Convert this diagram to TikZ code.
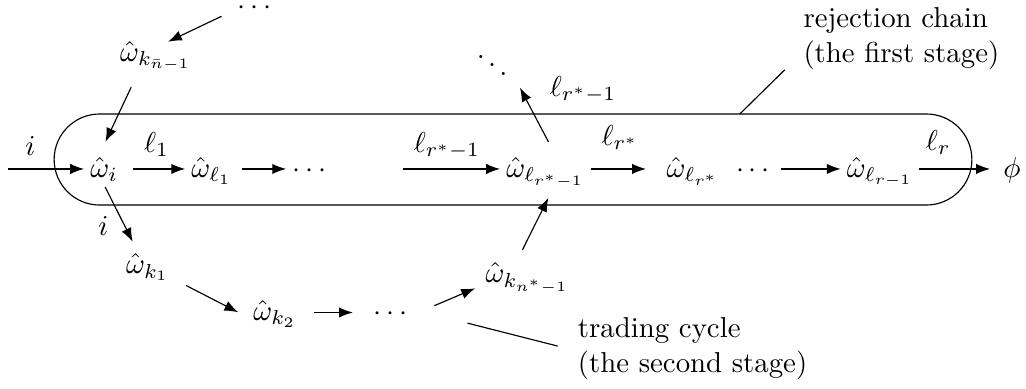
\documentclass[tikz,border=0pt]{standalone}
\usepackage{amsmath}
\usepackage{amssymb}
\usetikzlibrary{arrows.meta}

\begin{document}
\begin{tikzpicture}[
			>={Latex},
			every node/.style={font=\normalsize},
			state/.style={inner sep=2pt, text height=8pt, text depth=2.4pt},
			lbl/.style={inner sep=1pt},
			note/.style={align=left, anchor=west, inner sep=0pt}
			]
			\useasboundingbox (0,0) rectangle (12.51,4.74);
			
			% first stage
			\draw[rounded corners=0.555cm] (0.66,2.24) rectangle (11.85,3.35);
			
			\coordinate (in) at (0.10,2.68);
			\node[state] (wi) at (1.27,2.68) {$\hat{\omega}_i$};
			\node[state] (wl1) at (2.58,2.68) {$\hat{\omega}_{\ell_1}$};
			\node[state] (d1) at (3.80,2.68) {$\cdots$};
			\coordinate (from) at (4.91,2.68);
			\node[state] (wr) at (6.65,2.68) {$\hat{\omega}_{\ell_{r^*-1}}$};
			\node[state] (wrs) at (8.45,2.68) {$\hat{\omega}_{\ell_{r^*}}$};
			\node[state] (d2) at (9.21,2.68) {$\cdots$};
			\node[state] (wrm) at (10.73,2.68) {$\hat{\omega}_{\ell_{r-1}}$};
			\node[state] (phi) at (12.34,2.68) {$\phi$};
			
			\draw[->] (in) -- (wi);
			\draw[->, shorten <=3pt] (wi) -- (wl1);
			\draw[->, shorten <=1.5pt] (wl1) -- (d1);
			\draw[->] (from) -- (wr);
			\draw[->, shorten >=5pt] (wr) -- (wrs);
			\draw[->] (d2) -- (wrm);
			\draw[->, shorten >=2.5pt] (wrm) -- (phi);
			
			\node[lbl] (li) at (0.37,2.96) {$i$};
			\node[lbl] (ll1) at (1.91,2.98) {$\ell_1$};
			\node[lbl] (llr) at (5.45,2.96) {$\ell_{r^*-1}$};
			\node[lbl] (llrs) at (7.56,3.06) {$\ell_{r^*}$};
			\node[lbl] (llr2) at (11.44,3.00) {$\ell_r$};
			
			% upward branch
			\node[lbl] (dtop) at (3.13,4.64) {$\cdots$};
			\node[state] (wkn) at (1.90,4.09) {$\hat{\omega}_{k_{\bar{n}-1}}$};
			\draw[->, shorten <=13.5pt, shorten >=4.7pt] ([yshift=3pt]dtop.center) -- ([yshift=2pt]wkn.center);
			\draw[->, shorten <=13pt, shorten >=10.4pt] ([xshift=-3pt]wkn.center) -- ([xshift=-4pt]wi.center);
			
			\node[lbl] (dd) at (6.00,4.05) {$\ddots$};
			\coordinate (up) at (6.34,3.67);
			\draw[->, shorten <=10.6pt] ([xshift=6pt]wr.center) -- (up);
			\node[lbl] (lup) at (7.11,3.65) {$\ell_{r^*-1}$};
			
			% second stage
			\node[state] (wk1) at (1.80,1.50) {$\hat{\omega}_{k_1}$};
			\node[state] (wk2) at (3.35,0.93) {$\hat{\omega}_{k_2}$};
			\node[state] (d3) at (4.79,0.93) {$\cdots$};
			\node[state] (wkn1) at (6.43,1.39) {$\hat{\omega}_{k_{n^*-1}}$};
			
			\draw[->, shorten <=7pt, shorten >=9.3pt] ([xshift=-2.8pt]wi.center) -- ([xshift=-1pt]wk1.center);
			\draw[->, shorten <=15pt, shorten >=3.4pt] (wk1.center) -- ([yshift=-1.5pt]wk2.west);
			\draw[->, shorten <=4pt, shorten >=5pt] (wk2) -- (d3);
			\draw[->, shorten <=6pt, shorten >=19.7pt] (d3.east) -- ([yshift=3pt]wkn1.center);
			\draw[->, shorten <=9.7pt, shorten >=11.2pt] ([xshift=-6pt]wkn1.center) -- ([xshift=6pt]wr.center);
			\node[lbl] (li2) at (1.26,1.98) {$i$};
			
			% stage labels
			\node[note] (rc) at (9.79,4.27) {rejection chain\\(the first stage)};
			\draw (9.57,3.89) -- (9.02,3.35);
			\node[note] (tc) at (7.04,0.49) {trading cycle\\(the second stage)};
			\draw (5.70,0.80) -- (6.80,0.52);
		\end{tikzpicture}
\end{document}
